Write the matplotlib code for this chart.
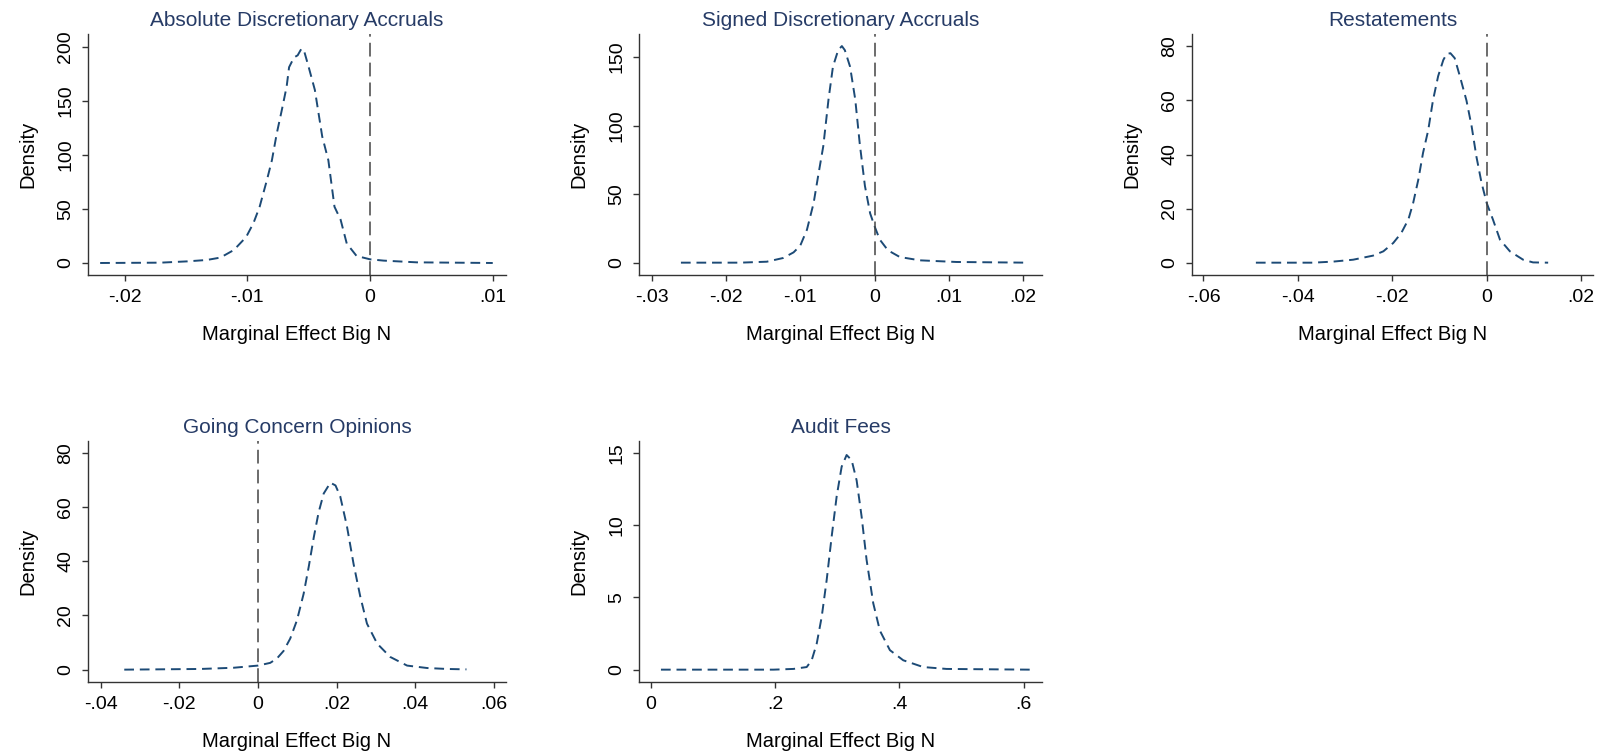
import numpy as np
import matplotlib.pyplot as plt

plt.rcParams['font.family'] = ['Liberation Sans', 'DejaVu Sans']

# ---- data (x = marginal effect, y = density) ----
titles = ['Absolute Discretionary Accruals', 'Signed Discretionary Accruals',
          'Restatements', 'Going Concern Opinions', 'Audit Fees']

abs_x = [-0.0220, -0.0171, -0.0149, -0.0133, -0.0122, -0.0111, -0.0101, -0.0095,
         -0.0090, -0.0084, -0.0080, -0.0076, -0.0072, -0.0068, -0.0066, -0.0062,
         -0.0059, -0.0056, -0.0054, -0.0050, -0.0045, -0.0039, -0.0034, -0.0029,
         -0.0024, -0.0019, -0.0011, 0.0, 0.0011, 0.0038, 0.0100]
abs_y = [0, 0.3, 1.5, 2.8, 5, 12, 24, 37, 52, 77, 95, 120, 141, 163, 181, 190,
         192, 198, 197, 181, 160, 117, 95, 52, 40, 18, 6.5, 3.4, 2.2, 0.6, 0]

sig_x = [-0.02605, -0.0181, -0.0145, -0.0123, -0.0109, -0.0100, -0.0091, -0.0082,
         -0.0076, -0.0069, -0.0062, -0.0056, -0.0049, -0.0044, -0.0040, -0.0033,
         -0.0026, -0.0020, -0.0013, -0.0006, 0.0, 0.0007, 0.0018, 0.0034, 0.0061,
         0.0110, 0.0205]
sig_y = [0, 0, 0.7, 3.4, 7.5, 12.4, 24, 43.5, 63, 85, 119, 143, 155, 158, 155,
         143, 119, 87, 56, 36, 26.5, 16.8, 9, 4.1, 1.7, 0.5, 0]

res_x = [-0.0489, -0.0368, -0.0325, -0.0283, -0.0241, -0.0219, -0.0198, -0.0181,
         -0.0166, -0.0156, -0.0145, -0.0135, -0.0124, -0.0114, -0.0103, -0.0092,
         -0.0085, -0.0077, -0.0068, -0.0057, -0.0043, -0.0032, -0.0022, -0.0011,
         0.0, 0.0013, 0.0028, 0.0049, 0.0077, 0.0098, 0.0130]
res_y = [0, 0, 0.4, 1.1, 2.6, 4.2, 7.3, 11, 16, 22, 30.7, 40.6, 49, 60, 69, 75,
         77.2, 77.5, 75.7, 69, 60, 50.4, 39.3, 29.5, 22, 16, 8.5, 4.2, 1.1, 0.1, 0]

gc_x = [-0.0340, -0.0147, -0.0062, 0.0, 0.0031, 0.0048, 0.0065, 0.0082, 0.0099,
        0.0116, 0.0129, 0.0142, 0.0154, 0.0167, 0.0184, 0.0197, 0.0209, 0.0226,
        0.0243, 0.0260, 0.0277, 0.0303, 0.0336, 0.0379, 0.0430, 0.0481, 0.0530]
gc_y = [0, 0.25, 0.7, 1.5, 2.5, 4.1, 6.9, 11.5, 18.2, 28, 38, 49, 58, 65, 69, 68,
        64, 53, 39, 27, 17, 9.6, 4.7, 1.5, 0.6, 0.25, 0.1]

fee_x = [0.0166, 0.1975, 0.2296, 0.2510, 0.2590, 0.2671, 0.2751, 0.2831, 0.2911,
         0.2992, 0.3072, 0.3152, 0.3233, 0.3313, 0.3393, 0.3473, 0.3580, 0.3687,
         0.3848, 0.4062, 0.4383, 0.4758, 0.6096]
fee_y = [0, 0, 0.05, 0.18, 0.65, 1.8, 3.65, 6.2, 9.2, 12.0, 14.05, 14.86, 14.5,
         13.1, 10.6, 7.6, 4.6, 2.7, 1.35, 0.65, 0.18, 0.05, 0]

xs = [abs_x, sig_x, res_x, gc_x, fee_x]
ys = [abs_y, sig_y, res_y, gc_y, fee_y]

xticks = [[-0.02, -0.01, 0, 0.01],
          [-0.03, -0.02, -0.01, 0, 0.01, 0.02],
          [-0.06, -0.04, -0.02, 0, 0.02],
          [-0.04, -0.02, 0, 0.02, 0.04, 0.06],
          [0, 0.2, 0.4, 0.6]]
xticklabels = [['-.02', '-.01', '0', '.01'],
               ['-.03', '-.02', '-.01', '0', '.01', '.02'],
               ['-.06', '-.04', '-.02', '0', '.02'],
               ['-.04', '-.02', '0', '.02', '.04', '.06'],
               ['0', '.2', '.4', '.6']]
yticks = [[0, 50, 100, 150, 200],
          [0, 50, 100, 150],
          [0, 20, 40, 60, 80],
          [0, 20, 40, 60, 80],
          [0, 5, 10, 15]]
xlims = [(-0.02299, 0.01108), (-0.03169, 0.02252), (-0.06243, 0.0225),
         (-0.04322, 0.06305), (-0.0187, 0.6294)]
ylims = [(-11.1, 211.7), (-9.0, 166.8), (-4.56, 84.6), (-4.56, 84.4), (-0.855, 15.83)]
show_zero = [True, True, True, True, False]

# axes boxes in pixels: left, right, top, bottom
W, H = 1623, 756
boxes = [(88, 506, 34, 275), (639, 1042, 34, 275), (1192, 1593, 34, 275),
         (88, 506, 441, 682), (639, 1042, 441, 682)]

navy = '#1c4a76'
title_col = '#263b66'
fig = plt.figure(figsize=(W / 100, H / 100), dpi=100)

for i in range(5):
    l, r, t, b = boxes[i]
    ax = fig.add_axes([l / W, 1 - b / H, (r - l) / W, (b - t) / H])
    ax.plot(xs[i], ys[i], color=navy, lw=1.4, ls=(0, (5, 3)))
    if show_zero[i]:
        ax.axvline(0, color='#444444', lw=1.1, ls=(0, (9, 4)))
    ax.set_xlim(xlims[i])
    ax.set_ylim(ylims[i])
    ax.set_xticks(xticks[i])
    ax.set_xticklabels(xticklabels[i])
    ax.set_yticks(yticks[i])
    ax.set_yticklabels([str(v) for v in yticks[i]], rotation=90, va='center')
    for s in ['top', 'right']:
        ax.spines[s].set_visible(False)
    for s in ['left', 'bottom']:
        ax.spines[s].set_color('#333333')
        ax.spines[s].set_linewidth(1.0)
    ax.tick_params(direction='out', length=4, width=1.0, color='#333333',
                   labelsize=14, pad=6)
    ax.set_title(titles[i], color=title_col, fontsize=15, pad=6)
    ax.set_xlabel('Marginal Effect Big N', fontsize=14.5, labelpad=14)
    ax.set_ylabel('Density', fontsize=14.5, labelpad=14)

fig.savefig('out.png', dpi=100, facecolor='white')
